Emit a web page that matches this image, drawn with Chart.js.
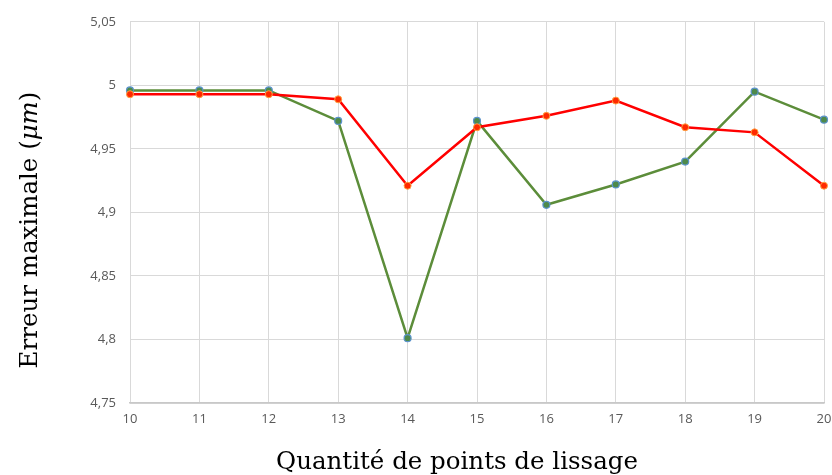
<!DOCTYPE html>
<html>
<head>
<meta charset="utf-8">
<script src="https://cdn.jsdelivr.net/npm/chart.js@4/dist/chart.umd.min.js"></script>
<style>
  html, body { margin: 0; padding: 0; background: #fff; }
  #wrap { width: 832px; height: 475px; position: relative; }
</style>
</head>
<body>
<div id="wrap"><canvas id="erreur-chart"></canvas></div>
<script>
// points de lissage
const quantites = ["10","11","12","13","14","15","16","17","18","19","20"];
// erreur maximale (um), deux series
const serieVerte = [4.996, 4.996, 4.996, 4.972, 4.801, 4.972, 4.906, 4.922, 4.940, 4.995, 4.973];
const serieRouge = [4.993, 4.993, 4.993, 4.989, 4.921, 4.967, 4.976, 4.988, 4.967, 4.963, 4.921];
const yMin = 4.75, yMax = 5.05, yStep = 0.05;

const serif = "'DejaVu Serif', 'Liberation Serif', serif";
const titleSize = 24.5;

// axis titles, the y one mixes roman and italic
const axisTitles = {
  id: 'axisTitles',
  afterDraw(chart) {
    const ctx = chart.ctx;
    ctx.save();
    ctx.fillStyle = '#000';
    ctx.textBaseline = 'alphabetic';

    ctx.font = titleSize + 'px ' + serif;
    ctx.textAlign = 'center';
    ctx.fillText('Quantité de points de lissage', 457, 469);

    const parts = [
      ['Erreur maximale (', titleSize + 'px ' + serif],
      ['μm', 'italic ' + titleSize + 'px ' + serif],
      [')', titleSize + 'px ' + serif]
    ];
    let total = 0;
    parts.forEach(p => { ctx.font = p[1]; total += ctx.measureText(p[0]).width; });
    ctx.translate(37, 230);
    ctx.rotate(-Math.PI / 2);
    ctx.textAlign = 'left';
    let x = -total / 2;
    parts.forEach(p => {
      ctx.font = p[1];
      ctx.fillText(p[0], x, 0);
      x += ctx.measureText(p[0]).width;
    });
    ctx.restore();
  }
};

const tickFont = { family: "'Open Sans', 'Liberation Sans', sans-serif", size: 13 };

new Chart(document.getElementById('erreur-chart'), {
  type: 'line',
  data: {
    labels: quantites,
    datasets: [
      {
        data: serieRouge,
        borderColor: '#ff0000',
        backgroundColor: '#ff2a00',
        pointBorderColor: '#ffa040',
        pointRadius: 3.5,
        pointBorderWidth: 1,
        borderWidth: 2.5,
        tension: 0,
        order: 1
      },
      {
        data: serieVerte,
        borderColor: '#5c8d3a',
        backgroundColor: '#4e8a4a',
        pointBorderColor: '#5b93cc',
        pointRadius: 3.5,
        pointBorderWidth: 1.2,
        borderWidth: 2.5,
        tension: 0,
        order: 2
      }
    ]
  },
  options: {
    responsive: true,
    maintainAspectRatio: false,
    animation: false,
    layout: { padding: { left: 0, right: 8, top: 20, bottom: 0 } },
    plugins: { legend: { display: false }, tooltip: { enabled: false } },
    scales: {
      x: {
        offset: false,
        grid: { color: '#d9d9d9', lineWidth: 1, drawTicks: false },
        border: { color: '#c8c8c8', width: 1.5 },
        ticks: { color: '#595959', font: tickFont, padding: 8, maxRotation: 0 },
        afterFit(scale) {
          scale.height = 72;
          scale.paddingLeft = 0;
          scale.paddingRight = 0;
        }
      },
      y: {
        min: yMin,
        max: yMax,
        grid: { color: '#d9d9d9', lineWidth: 1, drawTicks: false },
        border: { display: false },
        ticks: {
          stepSize: yStep,
          color: '#595959',
          font: tickFont,
          padding: 14,
          callback: v => String(Math.round(v * 100) / 100).replace('.', ',')
        },
        afterFit(scale) { scale.width = 130; }
      }
    }
  },
  plugins: [axisTitles]
});
</script>
</body>
</html>
